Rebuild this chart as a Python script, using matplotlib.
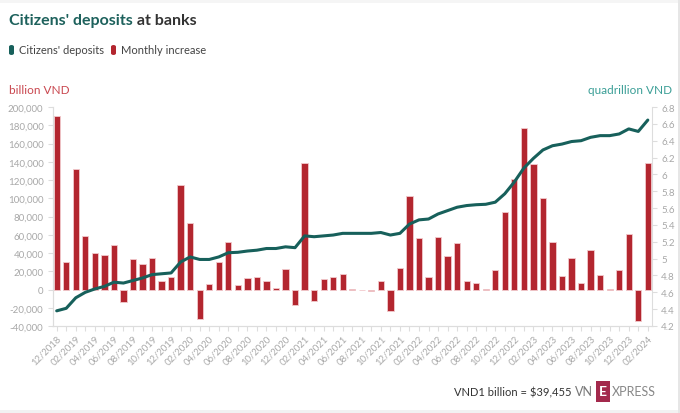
import numpy as np
import pandas as pd
import matplotlib
matplotlib.use("Agg")
import matplotlib.pyplot as plt
from matplotlib.patches import FancyBboxPatch, Rectangle

plt.rcParams['font.family'] = ['Lato', 'DejaVu Sans']

# monthly data, 12/2018 .. 02/2024
months = pd.date_range('2018-12-01', periods=63, freq='MS').strftime('%m/%Y').tolist()

# monthly increase, billion VND
monthly_increase = [190000, 30000, 132500, 59000, 39500, 38000, 49000, -14000, 33000, 28000,
                    34500, 9500, 13500, 115000, 73000, -32000, 6500, 30500, 52500, 5000,
                    12500, 14000, 9000, 1500, 22500, -17000, 138500, -13000, 12000, 13500,
                    17500, 1000, -500, -1500, 9000, -23500, 23500, 103000, 56500, 14000,
                    57500, 37000, 50500, 9000, 7500, 1000, 21500, 84500, 121000, 177000,
                    137000, 100500, 52000, 14500, 35000, 7000, 43500, 15500, 500, 21500,
                    60500, -34500, 139000]

# total citizens' deposits, quadrillion VND
deposits = [4.38, 4.41, 4.535, 4.60, 4.64, 4.67, 4.72, 4.71, 4.74, 4.77, 4.81, 4.82, 4.83,
            4.96, 5.02, 4.99, 4.99, 5.02, 5.07, 5.075, 5.09, 5.10, 5.12, 5.12, 5.14, 5.13,
            5.27, 5.26, 5.27, 5.28, 5.30, 5.30, 5.30, 5.30, 5.31, 5.28, 5.30,
            5.41, 5.46, 5.47, 5.53, 5.57, 5.61, 5.63, 5.64, 5.645, 5.67,
            5.77, 5.91, 6.075, 6.19, 6.29, 6.34, 6.36, 6.39, 6.40, 6.44, 6.46, 6.46,
            6.48, 6.54, 6.51, 6.645]

left_ticks = list(range(-40000, 200001, 20000))
right_ticks = [4.2, 4.4, 4.6, 4.8, 5.0, 5.2, 5.4, 5.6, 5.8, 6.0, 6.2, 6.4, 6.6, 6.8]

RED = '#b3262f'
TEAL = '#17605b'
GREY = '#a8a8a8'
AXC = '#dddddd'

W, H = 680, 414
fig = plt.figure(figsize=(W / 100, H / 100), dpi=100)
fig.patch.set_facecolor('white')

# thin grey frame bands like the page
fig.add_artist(Rectangle((0, 1 - 4 / H), 1, 4 / H, transform=fig.transFigure, color='#f5f5f5', lw=0))
fig.add_artist(Rectangle((0, 0), 1, 3 / H, transform=fig.transFigure, color='#f2f2f2', lw=0))
fig.add_artist(Rectangle((1 - 2 / W, 0), 2 / W, 1, transform=fig.transFigure, color='#e6e6e6', lw=0))

x0, x1, y0, y1 = 52.5, 652, 108, 327
ax = fig.add_axes([x0 / W, 1 - y1 / H, (x1 - x0) / W, (y1 - y0) / H])
ax2 = ax.twinx()

x = np.arange(len(months))
ax.bar(x, monthly_increase, width=0.66, color=RED, edgecolor='#f2c9cc', linewidth=0.6)
ax2.plot(x, deposits, color=TEAL, lw=2.2, solid_joinstyle='round', solid_capstyle='round')

ax.set_xlim(-0.44, len(months) - 1 + 0.44)
ax.set_ylim(-40000, 200000)
ax2.set_ylim(4.2, 6.8)

ax.set_yticks(left_ticks)
ax.set_yticklabels([f'{v:,}' for v in left_ticks])
ax2.set_yticks(right_ticks)
ax2.set_yticklabels([f'{v:g}' for v in right_ticks])

ax.set_xticks(x)
ax.set_xticklabels([m if i % 2 == 0 else '' for i, m in enumerate(months)],
                   rotation=45, ha='right', rotation_mode='anchor')

for a in (ax, ax2):
    for s in a.spines.values():
        s.set_color(AXC)
        s.set_linewidth(0.8)
    a.spines['top'].set_visible(False)
    a.tick_params(colors=AXC, labelcolor=GREY, labelsize=7, length=3.5, width=0.8)
ax.spines['right'].set_visible(False)
ax.tick_params(axis='x', pad=2, labelsize=6.8)
ax.tick_params(axis='y', pad=3)
ax2.tick_params(axis='y', pad=3)

# title in two colours
r = fig.canvas.get_renderer()
t1 = fig.text(9 / W, 1 - 21 / H, "Citizens' deposits", color='#1d615c', fontsize=11.5,
              fontweight='bold', va='center', ha='left')
bb = t1.get_window_extent(r)
fig.text(bb.x1 / W, 1 - 21 / H, " at banks", color='#333333', fontsize=11.5,
         fontweight='bold', va='center', ha='left')

# legend
def legend_item(xpx, color, label):
    fig.add_artist(FancyBboxPatch((xpx / W, 1 - 56 / H), 5 / W, 10 / H,
                                  boxstyle='round,pad=0,rounding_size=0.004',
                                  transform=fig.transFigure, color=color, lw=0))
    return fig.text((xpx + 10) / W, 1 - 51 / H, label, color='#444444', fontsize=8,
                    va='center', ha='left')

t = legend_item(9, TEAL, "Citizens' deposits")
ex = t.get_window_extent(r)
legend_item(ex.x1 + 7, RED, "Monthly increase")

fig.text(9 / W, 1 - 91 / H, 'billion VND', color='#c9474f', fontsize=8.5, va='center', ha='left')
fig.text(672 / W, 1 - 91 / H, 'quadrillion VND', color='#3a9e96', fontsize=8.5, va='center', ha='right')

# footer
fig.text(572 / W, 1 - 393 / H, 'VND1 billion = $39,455', color='#333333', fontsize=8,
         va='center', ha='right')
fig.text(575 / W, 1 - 392 / H, 'VN', color='#777777', fontsize=9, va='center', ha='left')
fig.add_artist(Rectangle((596 / W, 1 - 403 / H), 14 / W, 21 / H, transform=fig.transFigure,
                         color='#a3294c', lw=0))
fig.text(603 / W, 1 - 392.5 / H, 'E', color='white', fontsize=10, fontweight='bold',
         va='center', ha='center')
fig.text(612 / W, 1 - 392 / H, 'XPRESS', color='#888888', fontsize=9, va='center', ha='left')

fig.savefig('out.png', dpi=100)
